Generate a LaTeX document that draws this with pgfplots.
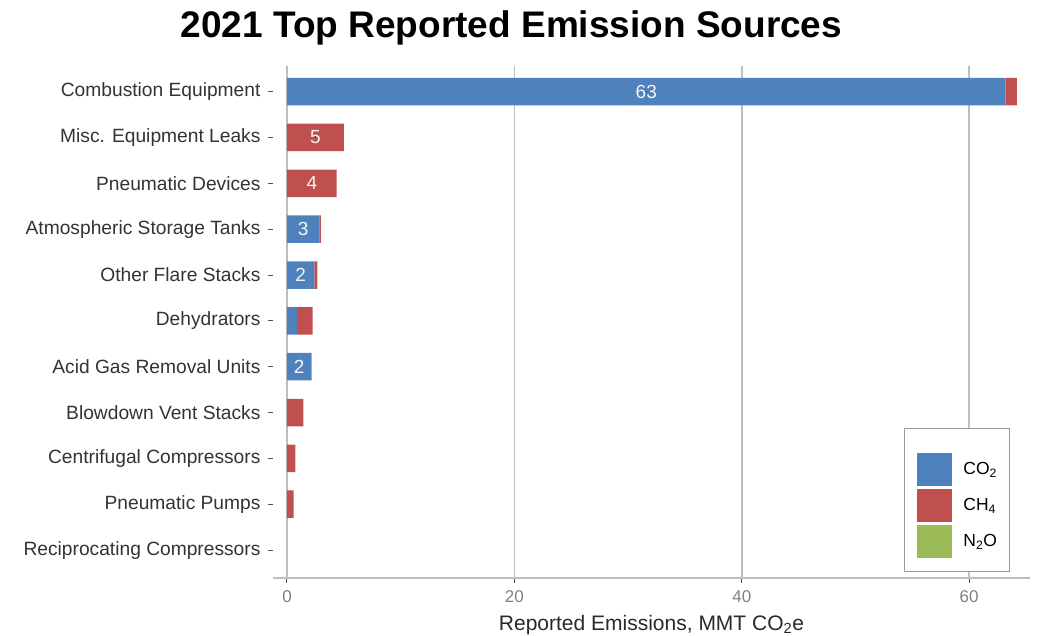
\documentclass[border=0pt]{standalone}
\usepackage{pgfplots}
\pgfplotsset{compat=1.18}
\usepackage{pgfplotstable}
\usepackage{fontspec}
\setmainfont{Liberation Sans}

\definecolor{co2}{RGB}{79,129,189}
\definecolor{ch4}{RGB}{192,80,77}
\definecolor{n2o}{RGB}{155,187,89}
\definecolor{gridc}{RGB}{190,190,190}
\definecolor{labc}{RGB}{51,51,51}
\definecolor{tickc}{RGB}{128,128,128}

\pgfplotsset{
  /pgf/number format/assume math mode=true,
  swatch/.style={legend image code/.code={\fill[##1] (0pt,-16.5pt) rectangle (35pt,16.5pt);}},
  topswatch/.style={legend image code/.code={\fill[##1] (0pt,-16.5pt) rectangle (35pt,16.5pt); \path (0pt,26.5pt);}},
}

% Emissions by source (MMT CO2e); idx 10 = top row
\pgfplotstableread{
idx co2  ch4  n2o
10  63.2 1.0  0
9   0    5.0  0
8   0    4.37 0
7   2.85 0.12 0
6   2.4  0.27 0
5   0.9  1.36 0
4   2.14 0.02 0
3   0    1.44 0
2   0    0.73 0
1   0    0.59 0
0   0    0    0
}\emis

% Segments that carry a value label: start of segment and its size
\pgfplotstableread{
idx start val
10  0     63.2
9   0     5.0
8   0     4.37
7   0     2.85
6   0     2.4
4   0     2.14
}\seglabels

\begin{document}
\begin{tikzpicture}
\begin{axis}[
  scale only axis, width=757pt, height=512pt,
  xbar stacked, bar width=0.6,
  xmin=-1.23, xmax=65.35, ymin=-0.61, ymax=10.56,
  clip=false,
  ytick={0,...,10},
  yticklabels={Reciprocating Compressors, Pneumatic Pumps, Centrifugal Compressors,
    Blowdown Vent Stacks, Acid Gas Removal Units, Dehydrators, Other Flare Stacks,
    Atmospheric Storage Tanks, Pneumatic Devices, Misc. Equipment Leaks, Combustion Equipment},
  xtick={0,20,40,60},
  xmajorgrids, major grid style={gridc, line width=1.5pt},
  axis lines*=left,
  y axis line style={draw=none},
  x axis line style={gridc, line width=1.8pt},
  tick align=outside, major tick length=5pt,
  tick style={labc!85, line width=1pt},
  yticklabel style={font=\fontsize{19.2}{21}\selectfont, text=labc, xshift=-4pt},
  xticklabel style={font=\fontsize{17}{19}\selectfont, text=tickc, yshift=-4pt},
  xlabel={Reported Emissions, MMT CO\textsubscript{2}e},
  xlabel style={font=\fontsize{21}{24}\selectfont, text=labc!80!black, yshift=-6pt},
  legend cell align=left,
  legend style={at={(0.9736,0.011)}, anchor=south east, draw=gray!80, line width=1pt,
    fill=white, font=\fontsize{17.5}{20}\selectfont, inner xsep=12.5pt, inner ysep=14pt,
    row sep=3pt, nodes={inner sep=0pt},
    /tikz/every odd column/.append style={column sep=11pt}},
  swatch,
]
\addplot[fill=co2, draw=none, topswatch] table[x=co2, y=idx] \emis;
\addplot[fill=ch4, draw=none] table[x=ch4, y=idx] \emis;
\addplot[fill=n2o, draw=none] table[x=n2o, y=idx] \emis;
\legend{CO\textsubscript{2}, CH\textsubscript{4}, N\textsubscript{2}O}
\coordinate (sw) at (rel axis cs:0,0);
\coordinate (ne) at (rel axis cs:1,1);
\node[anchor=base, yshift=28pt, font=\fontsize{37}{40}\selectfont\bfseries]
  at (rel axis cs:0.315,1) {2021 Top Reported Emission Sources};
\end{axis}
\begin{axis}[
  scale only axis, width=757pt, height=512pt,
  xmin=-1.23, xmax=65.35, ymin=-0.61, ymax=10.56,
  hide axis,
]
\addplot[only marks, mark=*, mark size=0.1pt, mark options={draw=none, fill=none},
  point meta=explicit,
  nodes near coords={\pgfmathprintnumber[fixed,precision=0]{\pgfplotspointmeta}},
  nodes near coords style={anchor=center, text=white!92!gray, font=\fontsize{19}{20}\selectfont}]
  table[x expr=\thisrow{start}+\thisrow{val}/2, y=idx, meta=val] \seglabels;
\end{axis}
\pgfresetboundingbox
\path ([shift={(-273pt,-58pt)}]sw) rectangle ([shift={(8pt,66pt)}]ne);
\end{tikzpicture}
\end{document}
